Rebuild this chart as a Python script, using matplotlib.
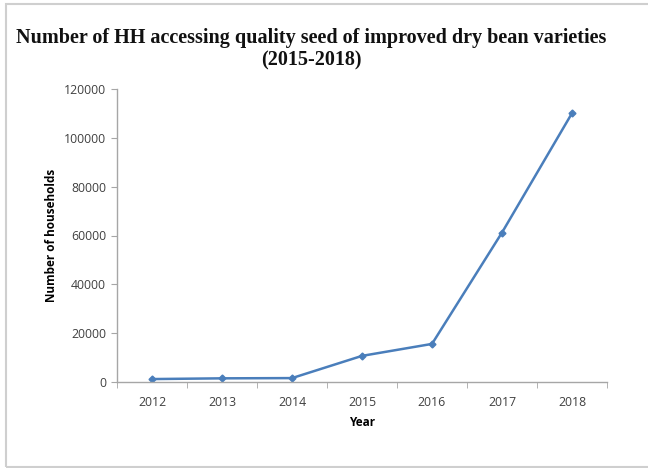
import matplotlib
matplotlib.use("Agg")
import matplotlib.pyplot as plt
from matplotlib.patches import Rectangle

years = ["2012", "2013", "2014", "2015", "2016", "2017", "2018"]
households = [1200, 1500, 1600, 10700, 15600, 61200, 110100]
y_ticks = [0, 20000, 40000, 60000, 80000, 100000, 120000]

W, H = 648, 468
fig = plt.figure(figsize=(W / 100, H / 100), dpi=100)
fig.patch.set_facecolor("white")

# outer chart-area frame
fig.patches.append(Rectangle((6 / W, 1 - 467 / H), 660 / W, (467 - 4) / H,
                             transform=fig.transFigure, fill=False,
                             edgecolor="#cfcfcf", linewidth=1.5))

ax = fig.add_axes([117 / W, 1 - 382 / H, 490 / W, (382 - 89) / H])
x = list(range(len(years)))
ax.plot(x, households, color="#4a7ebb", linewidth=1.8, marker="D",
        markersize=3.5, markerfacecolor="#4a7ebb", markeredgecolor="#4a7ebb")

ax.set_xlim(-0.5, len(years) - 0.5)
ax.set_ylim(0, 120000)
ax.set_yticks(y_ticks)
ax.set_yticklabels([str(v) for v in y_ticks])
ax.set_xticks(x)
ax.set_xticklabels(years)
ax.set_xticks([i - 0.5 for i in range(len(years) + 1)], minor=True)

for side in ["top", "right"]:
    ax.spines[side].set_visible(False)
for side in ["left", "bottom"]:
    ax.spines[side].set_color("#a6a6a6")
    ax.spines[side].set_linewidth(1)

ax.tick_params(axis="x", which="major", length=0, pad=10,
               labelsize=8.8, labelcolor="#404040")
ax.tick_params(axis="x", which="minor", length=4, color="#a6a6a6")
ax.tick_params(axis="y", length=4, color="#a6a6a6", pad=4,
               labelsize=8.8, labelcolor="#404040")
for lbl in ax.get_xticklabels() + ax.get_yticklabels():
    lbl.set_family("Open Sans")

ax.set_xlabel("Year", fontsize=8.5, fontweight="bold", family="Open Sans",
              labelpad=5)
ax.set_ylabel("Number of households", fontsize=8.5, fontweight="bold",
              family="Open Sans", labelpad=4)

fig.text(0.5 * (15 + 607) / W, 1 - 38 / H,
         "Number of HH accessing quality seed of improved dry bean varieties",
         ha="center", va="center", fontsize=14.5, fontweight="bold",
         family="Liberation Serif", color="#111111")
fig.text(0.5 * (15 + 607) / W, 1 - 60 / H, "(2015-2018)",
         ha="center", va="center", fontsize=14.5, fontweight="bold",
         family="Liberation Serif", color="#111111")

fig.savefig("out.png", dpi=100, facecolor="white")
